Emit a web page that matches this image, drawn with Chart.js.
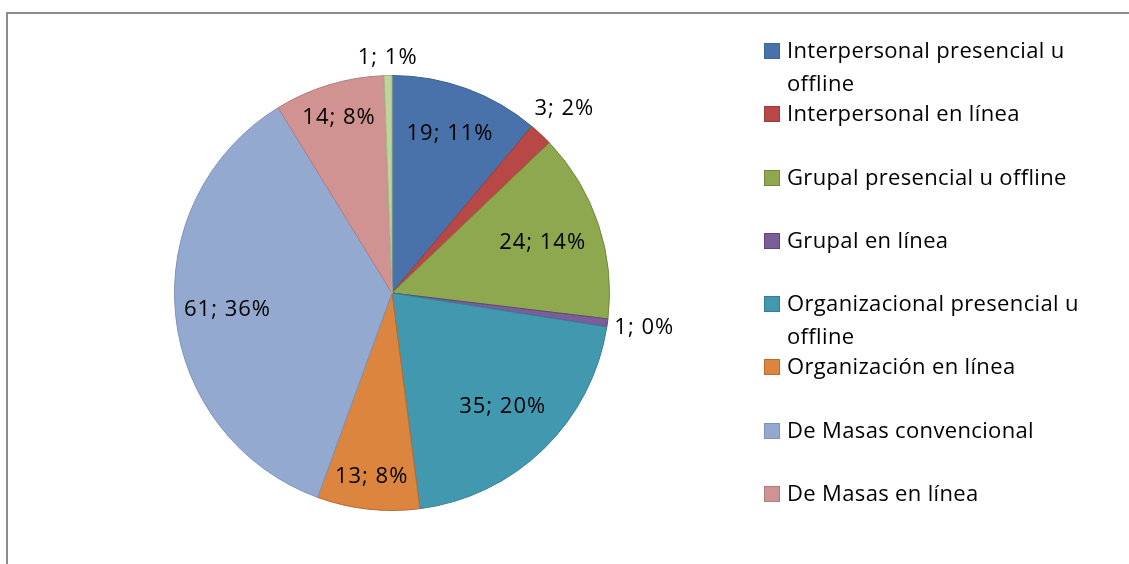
<!DOCTYPE html>
<html>
<head>
<meta charset="utf-8">
<script src="https://cdn.jsdelivr.net/npm/chart.js@4/dist/chart.umd.min.js"></script>
<style>
  html, body { margin: 0; padding: 0; background: #fff; }
  #wrap { position: relative; width: 1129px; height: 564px; overflow: hidden; }
  #frame { position: absolute; left: 6px; top: 12px; width: 1300px; height: 700px;
           border-top: 2px solid #8c8c8c; border-left: 2px solid #8c8c8c; box-sizing: border-box; }
  #c { position: absolute; left: 0; top: 0; }
  #legend { position: absolute; left: 764px; top: 33px; font-family: "Open Sans", sans-serif;
            font-size: 22px; letter-spacing: 0.35px; color: #000; }
  .item { position: relative; height: 63.3px; padding-left: 23px; width: 360px; line-height: 33px; white-space: nowrap; }
  .box { position: absolute; left: 0; top: 10px; width: 16px; height: 16px; box-sizing: border-box; border: 1px solid; }
</style>
</head>
<body>
<div id="wrap">
  <div id="frame"></div>
  <canvas id="c" width="1129" height="564"></canvas>
  <div id="legend"></div>
</div>
<script>
const categories = [
  "Interpersonal presencial u offline",
  "Interpersonal en línea",
  "Grupal presencial u offline",
  "Grupal en línea",
  "Organizacional presencial u offline",
  "Organización en línea",
  "De Masas convencional",
  "De Masas en línea",
  "Otros"
];
const values = [19, 3, 24, 1, 35, 13, 61, 14, 1];
const percentLabels = ["11%", "2%", "14%", "0%", "20%", "8%", "36%", "8%", "1%"];
const legendLines = [
  ["Interpersonal presencial u", "offline"],
  ["Interpersonal en línea"],
  ["Grupal presencial u offline"],
  ["Grupal en línea"],
  ["Organizacional presencial u", "offline"],
  ["Organización en línea"],
  ["De Masas convencional"],
  ["De Masas en línea"]
];
const fillColors = ["#4872A9", "#B84845", "#8DA84E", "#7A5D9A", "#4299AF", "#DC853F", "#94A9D0", "#D09392", "#BFD39C"];
const edgeColors = ["#3C6394", "#9E3B39", "#71883E", "#5F4879", "#367F92", "#B86C31", "#7F92B6", "#B37C7B", "#A3B784"];
const outsideIdx = [1, 3, 8];
const insideRadius = [0.78, 0, 0.73, 0, 0.73, 0.85, 0.76, 0.84, 0];

const labelPlugin = {
  id: 'sliceLabels',
  afterDatasetsDraw(chart) {
    const ctx = chart.ctx;
    const meta = chart.getDatasetMeta(0);
    ctx.save();
    ctx.font = '22px "Open Sans", sans-serif';
    try { ctx.letterSpacing = '1px'; } catch (e) {}
    ctx.fillStyle = '#000';
    ctx.textAlign = 'center';
    ctx.textBaseline = 'middle';
    meta.data.forEach((arc, i) => {
      const p = arc.getProps(['x', 'y', 'startAngle', 'endAngle', 'outerRadius'], true);
      const mid = (p.startAngle + p.endAngle) / 2;
      const txt = values[i] + '; ' + percentLabels[i];
      const w = ctx.measureText(txt).width;
      const h = 22;
      let d;
      if (outsideIdx.includes(i)) {
        d = p.outerRadius + 6 + Math.abs(Math.cos(mid)) * w / 2 + Math.abs(Math.sin(mid)) * h / 2;
      } else {
        d = p.outerRadius * insideRadius[i];
      }
      ctx.fillText(txt, p.x + Math.cos(mid) * d, p.y + Math.sin(mid) * d);
    });
    ctx.restore();
  }
};

new Chart(document.getElementById('c'), {
  type: 'pie',
  data: {
    labels: categories,
    datasets: [{
      data: values,
      backgroundColor: fillColors,
      borderColor: edgeColors,
      borderWidth: 1
    }]
  },
  options: {
    responsive: false,
    animation: false,
    layout: { padding: { left: 174, right: 519, top: 75, bottom: 53 } },
    plugins: { legend: { display: false }, tooltip: { enabled: false } }
  },
  plugins: [labelPlugin]
});

const leg = document.getElementById('legend');
legendLines.forEach((lines, i) => {
  const it = document.createElement('div');
  it.className = 'item';
  const b = document.createElement('div');
  b.className = 'box';
  b.style.background = fillColors[i];
  b.style.borderColor = edgeColors[i];
  it.appendChild(b);
  lines.forEach((ln) => {
    const s = document.createElement('div');
    s.textContent = ln;
    it.appendChild(s);
  });
  leg.appendChild(it);
});
</script>
</body>
</html>
